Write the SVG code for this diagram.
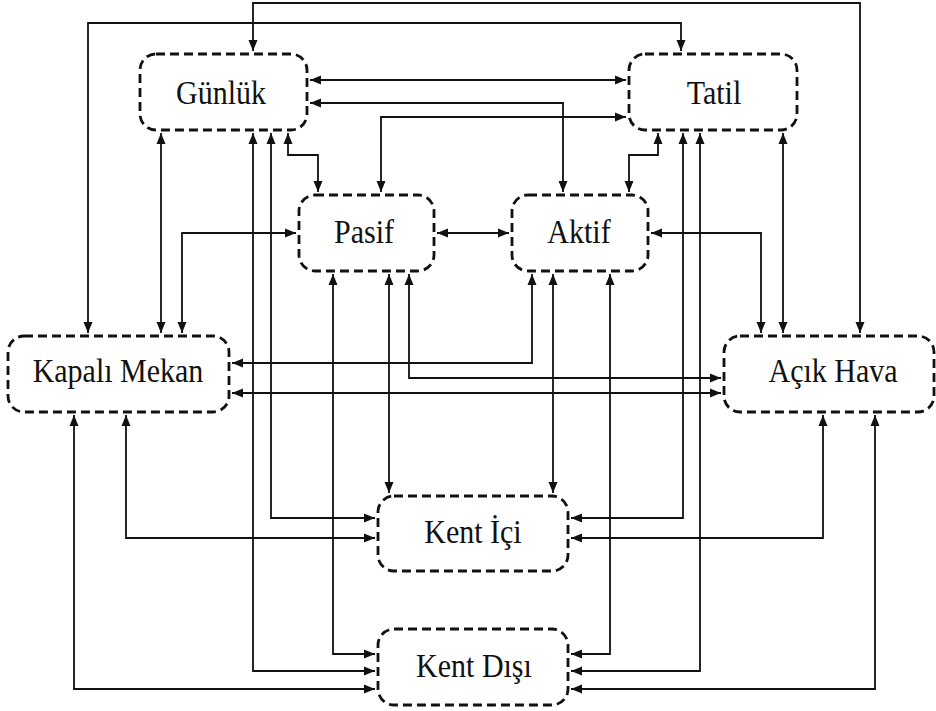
<svg xmlns="http://www.w3.org/2000/svg" width="936" height="711" viewBox="0 0 936 711">
<style>
.box{fill:#fff;stroke:#111;stroke-width:2.8;stroke-dasharray:9 5}
.lbl{font-family:"Liberation Serif",Tinos,"Times New Roman",serif;font-size:30px;fill:#111;text-anchor:middle}
.c{fill:none;stroke:#111;stroke-width:1.8;marker-start:url(#ah);marker-end:url(#ah)}
</style>
<defs>
<marker id="ah" markerUnits="userSpaceOnUse" markerWidth="12" markerHeight="10" refX="11" refY="5" orient="auto-start-reverse">
<path d="M0,0.5 L11,5 L0,9.5 z" fill="#111"/>
</marker>
</defs>
<rect width="936" height="711" fill="#fff"/>
<g id="connectors">
<path class="c" d="M253,51 V3 H860 V333"/>
<path class="c" d="M88,333 V23 H681 V51"/>
<path class="c" d="M310,80 H626"/>
<path class="c" d="M310,103 H563 V192"/>
<path class="c" d="M626,117 H381 V192"/>
<path class="c" d="M288,133 V155 H318 V192"/>
<path class="c" d="M161,133 V333"/>
<path class="c" d="M253,133 V671 H375"/>
<path class="c" d="M271,133 V518 H375"/>
<path class="c" d="M658,133 V155 H629 V192"/>
<path class="c" d="M683,133 V518 H571"/>
<path class="c" d="M700,133 V671 H571"/>
<path class="c" d="M783,133 V333"/>
<path class="c" d="M437,233 H509"/>
<path class="c" d="M296,233 H182 V333"/>
<path class="c" d="M651,233 H761 V333"/>
<path class="c" d="M333,274 V654 H375"/>
<path class="c" d="M389,274 V493"/>
<path class="c" d="M409,274 V378 H721"/>
<path class="c" d="M532,274 V363 H232"/>
<path class="c" d="M553,274 V493"/>
<path class="c" d="M610,274 V654 H571"/>
<path class="c" d="M232,393 H721"/>
<path class="c" d="M74,415 V689 H375"/>
<path class="c" d="M126,415 V538 H375"/>
<path class="c" d="M823,415 V538 H571"/>
<path class="c" d="M875,415 V689 H571"/>
</g>
<g id="gunluk"><rect class="box" x="140" y="54" width="167" height="76" rx="16"/><text class="lbl" transform="translate(221,104) scale(1,1.1)">Günlük</text></g>
<g id="tatil"><rect class="box" x="629" y="54" width="168" height="76" rx="16"/><text class="lbl" transform="translate(714,104) scale(1,1.1)">Tatil</text></g>
<g id="pasif"><rect class="box" x="299" y="195" width="135" height="76" rx="16"/><text class="lbl" transform="translate(364,243) scale(1,1.1)">Pasif</text></g>
<g id="aktif"><rect class="box" x="512" y="195" width="136" height="76" rx="16"/><text class="lbl" transform="translate(579,243) scale(1,1.1)">Aktif</text></g>
<g id="kapali-mekan"><rect class="box" x="8" y="336" width="221" height="76" rx="16"/><text class="lbl" transform="translate(118,382) scale(1,1.1)">Kapalı Mekan</text></g>
<g id="acik-hava"><rect class="box" x="724" y="336" width="210" height="76" rx="16"/><text class="lbl" transform="translate(833,382) scale(1,1.1)">Açık Hava</text></g>
<g id="kent-ici"><rect class="box" x="378" y="496" width="190" height="75" rx="16"/><text class="lbl" transform="translate(473,543) scale(1,1.1)">Kent İçi</text></g>
<g id="kent-disi"><rect class="box" x="378" y="629" width="190" height="76" rx="16"/><text class="lbl" transform="translate(474,677) scale(1,1.1)">Kent Dışı</text></g>
</svg>
